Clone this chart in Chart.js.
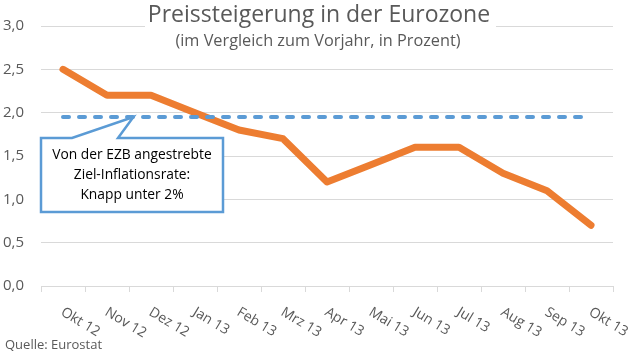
<!DOCTYPE html>
<html>
<head>
<meta charset="utf-8">
<script src="https://cdn.jsdelivr.net/npm/chart.js@4/dist/chart.umd.min.js"></script>
<style>
  html,body{margin:0;padding:0;background:#fff;}
  #c{display:block;}
</style>
</head>
<body>
<canvas id="c" width="639" height="353"></canvas>
<script>
// data
const months = ['Okt 12','Nov 12','Dez 12','Jan 13','Feb 13','Mrz 13','Apr 13','Mai 13','Jun 13','Jul 13','Aug 13','Sep 13','Okt 13'];
const inflation = [2.5, 2.2, 2.2, 2.0, 1.8, 1.7, 1.2, 1.4, 1.6, 1.6, 1.3, 1.1, 0.7];
const target = [1.95, 1.95, 1.95, 1.95, 1.95, 1.95, 1.95, 1.95, 1.95, 1.95, 1.95, 1.95, 1.95];
const yTicks = [0, 0.5, 1.0, 1.5, 2.0, 2.5, 3.0];
const titleText = 'Preissteigerung in der Eurozone';
const subtitleText = '(im Vergleich zum Vorjahr, in Prozent)';
const noteLines = ['Von der EZB angestrebte', 'Ziel-Inflationsrate:', 'Knapp unter 2%'];
const sourceText = 'Quelle: Eurostat';

const FONT = '"Open Sans", "Noto Sans", sans-serif';
const GREY = '#595959';
const BLUE = '#5B9BD5';
const ORANGE = '#ED7D31';

function fitSize(ctx, text, w){
  ctx.font = '100px ' + FONT;
  return 100 * w / ctx.measureText(text).width;
}

const extras = {
  id: 'extras',
  afterDraw(chart){
    const ctx = chart.ctx;
    const x = chart.scales.x, y = chart.scales.y;
    ctx.save();

    // title with white box over the top gridline
    ctx.fillStyle = '#fff';
    ctx.fillRect(145, 2, 351, 30);
    ctx.fillStyle = GREY;
    ctx.textAlign = 'center';
    ctx.textBaseline = 'middle';
    ctx.font = fitSize(ctx, titleText, 343).toFixed(1) + 'px ' + FONT;
    ctx.fillText(titleText, 319, 15);
    ctx.font = fitSize(ctx, subtitleText, 286).toFixed(1) + 'px ' + FONT;
    ctx.fillText(subtitleText, 318, 41);

    // rotated category labels
    ctx.font = '14px ' + FONT;
    ctx.textAlign = 'left';
    ctx.textBaseline = 'middle';
    months.forEach((m, i) => {
      const px = x.getPixelForValue(i);
      ctx.save();
      ctx.translate(px - 1, 311);
      ctx.rotate(31 * Math.PI / 180);
      ctx.fillText(m, 0, 0);
      ctx.restore();
    });

    // callout
    const tipX = x.getPixelForValue(1.6);
    const tipY = y.getPixelForValue(target[0]);
    ctx.beginPath();
    ctx.moveTo(41, 138);
    ctx.lineTo(72, 138);
    ctx.lineTo(tipX, tipY);
    ctx.lineTo(118, 138);
    ctx.lineTo(223, 138);
    ctx.lineTo(223, 212);
    ctx.lineTo(41, 212);
    ctx.closePath();
    ctx.fillStyle = '#fff';
    ctx.fill();
    ctx.strokeStyle = BLUE;
    ctx.lineWidth = 2.5;
    ctx.lineJoin = 'miter';
    ctx.stroke();

    ctx.fillStyle = '#000';
    ctx.textAlign = 'center';
    ctx.font = fitSize(ctx, noteLines[0], 160).toFixed(1) + 'px ' + FONT;
    noteLines.forEach((l, i) => ctx.fillText(l, 132, 155 + i * 20));

    // source
    ctx.fillStyle = GREY;
    ctx.textAlign = 'left';
    ctx.font = fitSize(ctx, sourceText, 97).toFixed(1) + 'px ' + FONT;
    ctx.fillText(sourceText, 5, 345);
    ctx.restore();
  }
};

new Chart(document.getElementById('c'), {
  type: 'line',
  data: {
    labels: months,
    datasets: [
      { label: 'Ziel', data: target, borderColor: BLUE, borderWidth: 4, borderDash: [6, 10],
        borderCapStyle: 'round', pointRadius: 0, fill: false, tension: 0 },
      { label: 'Inflation', data: inflation, borderColor: ORANGE, borderWidth: 7,
        borderCapStyle: 'round', borderJoinStyle: 'round', pointRadius: 0, fill: false, tension: 0 }
    ]
  },
  options: {
    responsive: false,
    animation: false,
    layout: { padding: { top: 24, right: 26, bottom: 0, left: 0 } },
    plugins: { legend: { display: false }, tooltip: { enabled: false }, title: { display: false } },
    scales: {
      x: {
        offset: true,
        grid: { drawOnChartArea: false, drawTicks: true, tickLength: 6, color: '#d9d9d9', offset: true },
        border: { color: '#d9d9d9' },
        ticks: { display: false },
        afterFit: s => { s.height = 67; }
      },
      y: {
        min: 0, max: 3,
        afterBuildTicks: s => { s.ticks = yTicks.map(v => ({ value: v })); },
        grid: { color: '#d9d9d9', drawTicks: false },
        border: { display: false },
        ticks: {
          color: GREY, padding: 17,
          font: { family: FONT, size: 15 },
          callback: v => v.toFixed(1).replace('.', ',')
        },
        afterFit: s => { s.width = 41; }
      }
    }
  },
  plugins: [extras]
});
</script>
</body>
</html>
